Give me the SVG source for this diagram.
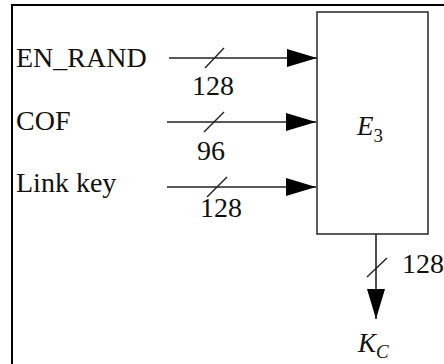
<svg xmlns="http://www.w3.org/2000/svg" width="444" height="364" viewBox="0 0 444 364">
  <style>
    .t { font-family: 'Liberation Serif', Tinos, 'Times New Roman', Times, 'DejaVu Serif', serif; fill: #111; }
    .lbl { font-size: 28px; }
    .num { font-size: 28px; }
    .it { font-style: italic; font-size: 27px; }
    .sub { font-size: 19px; }
    .wire { stroke: #222; stroke-width: 1.6; fill: none; }
    .slash { stroke: #222; stroke-width: 1.4; }
    .box { fill: #fff; stroke: #333; stroke-width: 1.6; }
  </style>
  <defs>
    <marker id="arr" markerWidth="30" markerHeight="18" refX="30" refY="9" orient="auto" markerUnits="userSpaceOnUse">
      <path d="M0,0 L30,9 L0,18 Z" fill="#000"/>
    </marker>
  </defs>
  <rect x="0" y="0" width="444" height="364" fill="#fff"/>
  <path d="M12,370 L12,5 L450,5" fill="none" stroke="#000" stroke-width="2"/>

  <g id="node-e3">
    <rect class="box" x="317" y="12" width="111" height="222"/>
    <text class="t it" x="357" y="135">E<tspan class="sub" font-style="normal" dy="7">3</tspan></text>
  </g>
  <g id="node-en-rand">
    <text class="t lbl" x="16" y="67">EN_RAND</text>
  </g>
  <g id="node-cof">
    <text class="t lbl" x="16" y="130">COF</text>
  </g>
  <g id="node-link-key">
    <text class="t lbl" x="16" y="192">Link key</text>
  </g>
  <g id="node-kc">
    <text class="t it" x="358" y="352">K<tspan class="sub" dy="6">C</tspan></text>
  </g>

  <g id="connectors">
    <line class="wire" x1="169" y1="58" x2="317" y2="58" marker-end="url(#arr)"/>
    <line class="slash" x1="205" y1="68" x2="224" y2="48"/>
    <text class="t num" x="192" y="95">128</text>

    <line class="wire" x1="167" y1="122" x2="316" y2="122" marker-end="url(#arr)"/>
    <line class="slash" x1="204" y1="132" x2="224" y2="112"/>
    <text class="t num" x="197" y="160">96</text>

    <line class="wire" x1="167" y1="187" x2="316" y2="187" marker-end="url(#arr)"/>
    <line class="slash" x1="207" y1="197" x2="227" y2="177"/>
    <text class="t num" x="200" y="217">128</text>

    <line class="wire" x1="376" y1="234" x2="376" y2="319" marker-end="url(#arr)"/>
    <line class="slash" x1="367" y1="277" x2="387" y2="258"/>
    <text class="t num" x="402" y="273">128</text>
  </g>
</svg>
